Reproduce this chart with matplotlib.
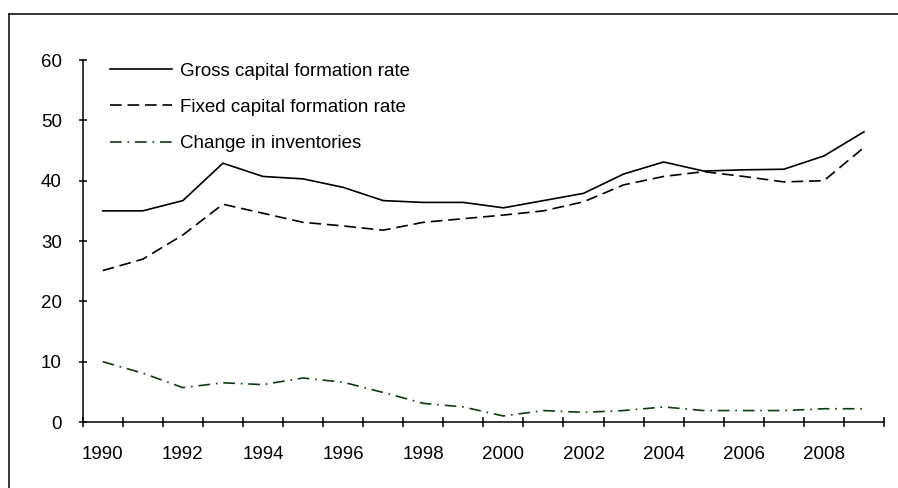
import matplotlib
matplotlib.use('Agg')
import matplotlib.pyplot as plt
from matplotlib.lines import Line2D

# data
years = list(range(1990, 2010))
gross = [35.0, 35.0, 36.7, 42.9, 40.7, 40.3, 38.9, 36.7, 36.4, 36.4,
         35.5, 36.7, 37.9, 41.1, 43.1, 41.6, 41.8, 41.9, 44.1, 48.1]
fixed = [25.1, 27.0, 31.0, 36.1, 34.6, 33.1, 32.5, 31.8, 33.1, 33.7,
         34.3, 35.0, 36.5, 39.3, 40.7, 41.5, 40.7, 39.8, 40.0, 45.5]
inventories = [10.0, 8.1, 5.7, 6.5, 6.2, 7.3, 6.6, 4.9, 3.1, 2.5,
               1.0, 1.9, 1.6, 1.9, 2.5, 1.9, 1.9, 1.9, 2.2, 2.2]
series_names = ['Gross capital formation rate', 'Fixed capital formation rate',
                'Change in inventories']
year_labels = [str(y) for y in years[::2]]

plt.rcParams['font.family'] = ['Liberation Sans', 'DejaVu Sans']
fs = 13.5

fig = plt.figure(figsize=(8.98, 4.88), dpi=100)
ax = fig.add_axes([0.0921, 0.1352, 0.8923, 0.7418])

x = list(range(len(years)))
ax.plot(x, gross, color='black', lw=1.2, label=series_names[0])
ax.plot(x, fixed, color='black', lw=1.2, dashes=(7, 3.5), label=series_names[1])
ax.plot(x, inventories, color='#0d3d0d', lw=1.2, dashes=(7, 3.5, 1, 3.5), label=series_names[2])

ax.set_xlim(-0.5, len(years) - 0.5)
ax.set_ylim(0, 60)
ax.set_yticks([0, 10, 20, 30, 40, 50, 60])
ax.tick_params(axis='y', direction='inout', length=6, width=1.1, pad=12, labelsize=fs)

# category axis: tick marks between years, labels every other year
ax.set_xticks(x[::2])
ax.set_xticklabels(year_labels)
ax.set_xticks([i - 0.5 for i in range(len(years) + 1)], minor=True)
ax.tick_params(axis='x', which='major', length=0, pad=17, labelsize=fs)
ax.tick_params(axis='x', which='minor', direction='inout', length=6.5, width=1.1)

for s in ['top', 'right']:
    ax.spines[s].set_visible(False)
for s in ['left', 'bottom']:
    ax.spines[s].set_linewidth(1.1)

ax.legend(loc='upper left', bbox_to_anchor=(0.025, 1.014), frameon=False,
          fontsize=fs, handlelength=3.3, handletextpad=0.43, labelspacing=1.03,
          borderaxespad=0.0)

# frame around the chart (top and left edges visible)
fig.add_artist(Line2D([0.0095, 1.0], [0.9703, 0.9703], color='black', lw=1.1,
                      transform=fig.transFigure))
fig.add_artist(Line2D([0.0095, 0.0095], [0.0, 0.9703], color='black', lw=1.1,
                      transform=fig.transFigure))

fig.savefig('out.png', dpi=100)
